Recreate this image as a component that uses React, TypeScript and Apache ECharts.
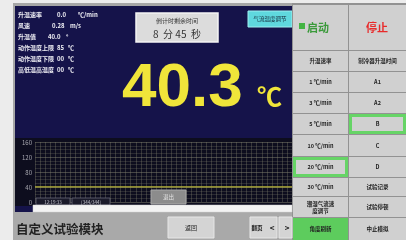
import React, { useEffect, useRef } from "react";
import * as echarts from "echarts";

// ---- data ----
const timeLabels: string[] = [
  "12:10:03","12:10:13","12:10:23","12:10:33","12:10:43","12:10:53","12:11:03","12:11:13","12:11:23","12:11:33",
  "12:11:43","12:11:53","12:12:03","12:12:13","12:12:23","12:12:33","12:12:43","12:12:53","12:13:03","12:13:13",
  "12:13:23","12:13:33","12:13:43","12:13:53","12:14:03","12:14:13","12:14:23","12:14:33","12:14:43","12:14:53",
  "12:15:03","12:15:13","12:15:23","12:15:33","12:15:43","12:15:53","12:16:03","12:16:13","12:16:23","12:16:33",
  "12:16:43","12:16:53","12:17:03","12:17:13","12:17:23","12:17:33","12:17:43","12:17:53","12:18:03","12:18:13",
  "12:18:23","12:18:33"
];
const temperatureValues: number[] = [
  40.2,40.3,40.3,40.2,40.3,40.3,40.4,40.3,40.3,40.2,
  40.3,40.3,40.3,40.4,40.3,40.3,40.2,40.3,40.3,40.3,
  40.3,40.4,40.3,40.3,40.2,40.3,40.3,40.3,40.3,40.4,
  40.3,40.3,40.2,40.3,40.3,40.3,40.3,40.3,40.4,40.3,
  40.3,40.2,40.3,40.3,40.3,40.3,40.4,40.3,40.3,40.3,
  40.3,40.3
];
const yMin = 0;
const yMax = 160;
const yInterval = 40;

const statusNames: string[] = ["升温速率", "风速", "升温值", "动作温度上限", "动作温度下限", "高低温高温度"];
const statusValues: string[] = ["0.0", "0.28", "40.0", "85", "00", "00"];
const statusUnits: string[] = ["℃/min", "m/s", "°", "℃", "℃", "℃"];
const rateButtons: string[] = ["1 ℃/min", "3 ℃/min", "5 ℃/min", "10 ℃/min", "20 ℃/min", "30 ℃/min", "潮湿气流速\n度调节", "角度刷新"];
const modeButtons: string[] = ["A1", "A2", "B", "C", "D", "试验记录", "试验停顿", "中止模拟"];
const currentTemp = "40.3";
const countdown = "8  分 45  秒";

const FONT = "'Noto Sans CJK SC', 'Noto Sans', sans-serif";

export default function App() {
  const ref = useRef<HTMLDivElement>(null);
  useEffect(() => {
    if (!ref.current) return;
    const chart = echarts.init(ref.current, undefined, { renderer: "svg" });

    const g: any[] = [];
    const rect = (x: number, y: number, w: number, h: number, fill: string, stroke?: string, lw = 1, z = 0) =>
      g.push({ type: "rect", shape: { x, y, width: w, height: h }, style: { fill, stroke: stroke || null, lineWidth: lw }, z, silent: true });
    const text = (x: number, y: number, t: string, size: number, color: string, opts: any = {}) =>
      g.push({
        type: "text", x, y, z: opts.z ?? 5, silent: true,
        style: {
          text: t, fontSize: size, fill: color, fontFamily: opts.family || FONT,
          fontWeight: opts.weight || "normal", align: opts.align || "left", verticalAlign: opts.va || "middle",
          lineHeight: opts.lh,
        },
      });

    // backgrounds
    rect(0, 0, 406, 240, "#ececec", undefined, 1, -10);
    rect(13, 3, 393, 237, "#a6a6a6", undefined, 1, -9);
    rect(15, 6, 277, 206, "#15134a", undefined, 1, -8);
    rect(15, 138, 277, 68, "#0d0d1e", undefined, 1, -7);

    // left status lines
    const valueX = [57, 52, 48, 57, 57, 57];
    const unitX = [78, 70, 66, 68, 68, 68];
    statusNames.forEach((s, i) => {
      const y = 14 + i * 11;
      text(18, y, s, 6, "#eeeef4", { weight: "bold" });
      text(valueX[i], y, statusValues[i], 6, "#eeeef4", { weight: "bold" });
      text(unitX[i], y, statusUnits[i], 6, "#eeeef4", { weight: "bold" });
    });

    // countdown box
    rect(136, 13, 82, 29, "#dcdcdc", "#f4f4f4", 1.5, 1);
    text(177, 20, "倒计时剩余时间", 6, "#333", { align: "center" });
    text(177, 33, countdown, 10, "#333", { align: "center" });

    // cyan button
    rect(248, 11, 44, 16, "#5fd8de", "#9ff0f0", 1, 1);
    text(270, 19, "气流温度调节", 5.5, "#123", { align: "center" });

    // big temperature
    text(122, 84, currentTemp, 62, "#f0e53a", { family: "'Liberation Sans', Arial, sans-serif", weight: "bold" });
    text(257, 95, "℃", 25, "#f0e53a", { family: "'Noto Sans CJK SC', sans-serif", weight: "bold" });

    // chart footer widgets
    rect(36, 198, 34, 7, "#1a1a2a", "#6a6a78", 0.8, 2);
    text(53, 201.5, "12:19:33", 4.5, "#c8c8d0", { align: "center" });
    rect(72, 198, 38, 7, "#1a1a2a", "#6a6a78", 0.8, 2);
    text(91, 201.5, "[344/344]", 4.5, "#c8c8d0", { align: "center" });
    rect(151, 190, 35, 14, "#8c8c8c", "#a8a8a8", 1, 2);
    text(168.5, 197, "退出", 5.5, "#e0e0e0", { align: "center" });
    rect(33, 205, 259, 7, "#f3f3f3", "#d0d0d0", 0.5, 2);

    // bottom bar
    rect(13, 212, 279, 28, "#a9a9a9", undefined, 1, 1);
    text(16, 228, "自定义试验模块", 12.5, "#222", { weight: "bold" });
    rect(168, 217, 46, 21, "#d4d4d4", "#e6e6e6", 1, 2);
    text(191, 227.5, "返回", 6, "#222", { align: "center" });
    rect(250, 217, 27, 21, "#d4d4d4", "#e6e6e6", 1, 2);
    text(257, 227.5, "翻页", 5.5, "#222", { align: "center", weight: "bold" });
    text(272, 227.5, "<", 8, "#222", { align: "center", weight: "bold" });
    rect(279, 217, 13, 21, "#d4d4d4", "#e6e6e6", 1, 2);
    text(287, 227.5, ">", 8, "#222", { align: "center", weight: "bold" });

    // right panel
    rect(292, 3, 114, 237, "#929292", undefined, 1, 1);
    const colX = [293, 349];
    const colW = [55, 57];
    // top row
    rect(colX[0], 5, colW[0], 45, "#d0d0d0", undefined, 1, 2);
    rect(colX[1], 5, colW[1], 45, "#d0d0d0", undefined, 1, 2);
    rect(299, 23, 6, 6, "#43b443", undefined, 1, 3);
    text(307, 27, "启动", 11, "#3a9a3a", { weight: "bold" });
    text(377, 27, "停止", 11, "#e82a2a", { weight: "bold", align: "center" });
    // header row
    rect(colX[0], 51, colW[0], 20, "#d0d0d0", undefined, 1, 2);
    rect(colX[1], 51, colW[1], 20, "#d0d0d0", undefined, 1, 2);
    text(320.5, 61, "升温速率", 5.5, "#222", { align: "center", weight: "bold" });
    text(377.5, 61, "制冷器升温时间", 5.5, "#222", { align: "center", weight: "bold" });
    const rowTops = [72, 93, 114, 135, 157, 178, 197, 218];
    const rowBottoms = [92, 113, 134, 156, 177, 196, 217, 240];
    rowTops.forEach((top, i) => {
      const h = rowBottoms[i] - top;
      const leftGreen = i === 7;
      rect(colX[0], top, colW[0], h, leftGreen ? "#5dcc5d" : "#d0d0d0", undefined, 1, 2);
      rect(colX[1], top, colW[1], h, "#d0d0d0", undefined, 1, 2);
      if (i === 4) rect(colX[0] + 1.5, top + 1.5, colW[0] - 3, h - 3, "none", "#66d466", 3, 3);
      if (i === 2) rect(colX[1] + 1.5, top + 1.5, colW[1] - 3, h - 3, "none", "#66d466", 3, 3);
      const cy = top + h / 2;
      text(320.5, cy, rateButtons[i], 5.5, "#222", { align: "center", weight: "bold", lh: 7 });
      text(377.5, cy, modeButtons[i], 5.5, "#222", { align: "center", weight: "bold" });
    });

    chart.setOption({
      animation: false,
      backgroundColor: "transparent",
      grid: { left: 35, right: 114, top: 142, bottom: 38 },
      xAxis: {
        type: "category",
        data: timeLabels,
        boundaryGap: false,
        axisLine: { show: false },
        axisTick: { show: false },
        axisLabel: { show: false },
        splitLine: { show: true, interval: 0, lineStyle: { color: "rgba(130,130,110,0.35)", width: 1 } },
      },
      yAxis: {
        type: "value",
        min: yMin,
        max: yMax,
        interval: yInterval,
        axisLine: { show: false },
        axisTick: { show: false },
        axisLabel: { color: "#a8a8b0", fontSize: 6, margin: 3, fontFamily: FONT },
        splitLine: { show: true, lineStyle: { color: "rgba(140,140,120,0.45)", width: 1 } },
        minorTick: { show: false, splitNumber: 4 },
        minorSplitLine: { show: true, lineStyle: { color: "rgba(110,110,100,0.3)", width: 1 } },
      },
      series: [
        {
          type: "line",
          data: temperatureValues,
          symbol: "none",
          lineStyle: { color: "#b7b338", width: 1.2 },
          z: 3,
        },
      ],
      graphic: { elements: g },
    });
    return () => chart.dispose();
  }, []);
  return <div ref={ref} style={{ position: "fixed", left: 0, top: 0, width: 406, height: 240 }} />;
}
